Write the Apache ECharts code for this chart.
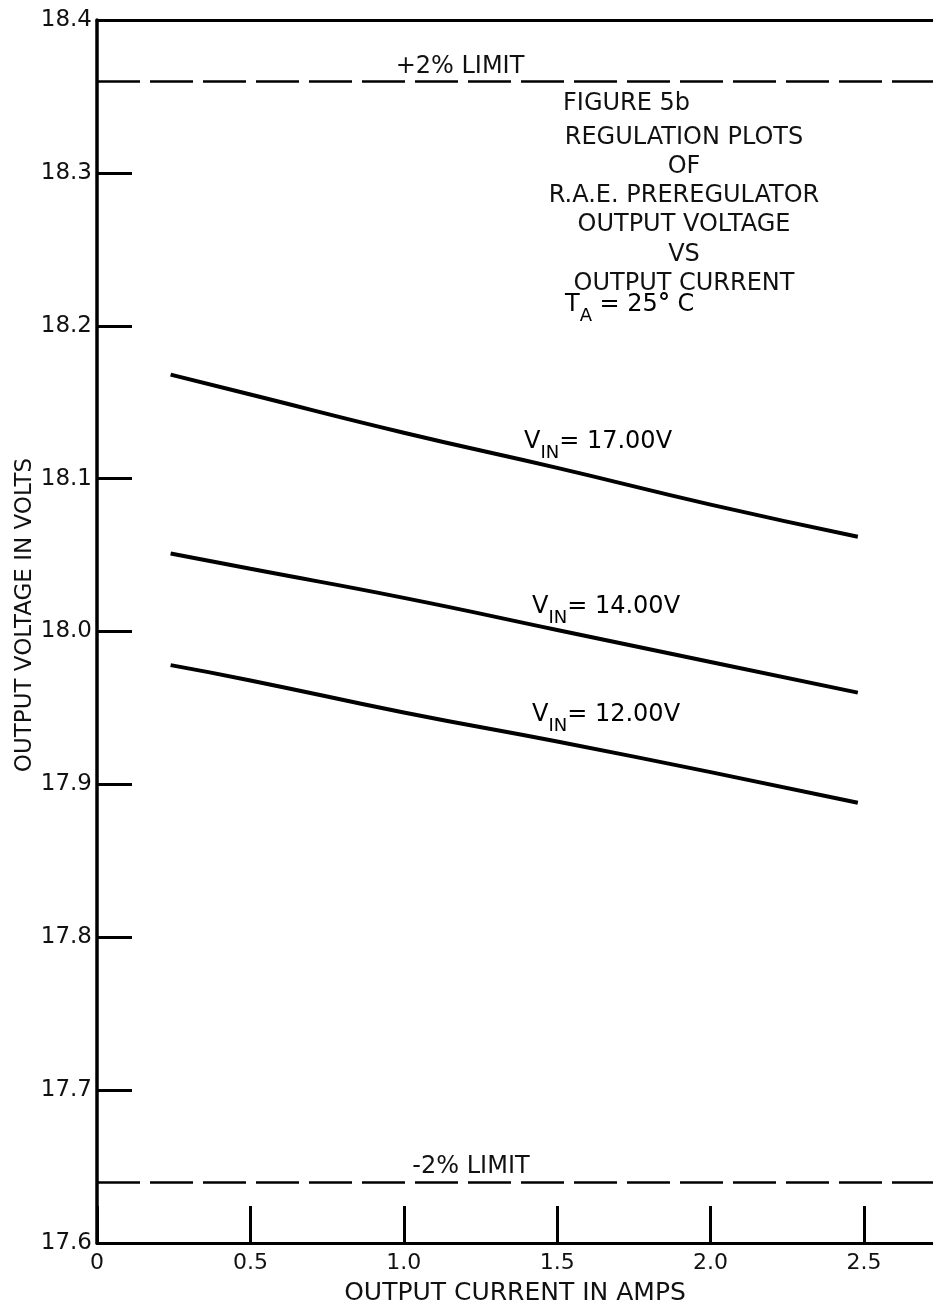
<!DOCTYPE html>
<html>
<head>
<meta charset="utf-8">
<script src="https://cdn.jsdelivr.net/npm/echarts@6/dist/echarts.min.js"></script>
<style>
  html, body { margin: 0; padding: 0; background: #fff; }
  #chart { width: 933px; height: 1309px; }
</style>
</head>
<body>
<div id="chart"></div>
<script>
const current = [0.24, 0.5, 1.0, 1.5, 2.0, 2.48];
// output voltage (V) for each input voltage
const vin17 = [18.168, 18.155, 18.130, 18.107, 18.083, 18.062];
const vin14 = [18.051, 18.041, 18.022, 18.001, 17.980, 17.960];
const vin12 = [17.978, 17.968, 17.947, 17.928, 17.908, 17.888];
// +2% / -2% limits of 18.00 V
const limits = [18.36, 17.64];
const limitNames = ['+2% LIMIT', '-2% LIMIT'];

const FONT = 'DejaVu Sans';

function pairs(ys) {
  return current.map((x, i) => [x, ys[i]]);
}

const lineStyle = { color: '#000', width: 4 };

var myChart = echarts.init(document.getElementById('chart'));

var option = {
  animation: false,
  backgroundColor: '#fff',
  grid: { left: 97, right: 0, top: 20, bottom: 66, outerBoundsMode: 'none', containLabel: false },
  xAxis: [
    {
      type: 'value',
      min: 0,
      max: 2.725,
      interval: 0.5,
      position: 'bottom',
      name: 'OUTPUT CURRENT IN AMPS',
      nameLocation: 'middle',
      nameGap: 38,
      nameTextStyle: { fontFamily: FONT, fontSize: 25, color: '#111' },
      axisLine: { lineStyle: { color: '#000', width: 3 } },
      axisTick: { inside: true, length: 37, lineStyle: { color: '#000', width: 3 } },
      axisLabel: {
        fontFamily: FONT, fontSize: 22, color: '#111', margin: 9,
        showMaxLabel: false,
        formatter: v => (v === 0 ? '0' : v.toFixed(1))
      },
      splitLine: { show: false }
    },
    {
      // top frame line
      type: 'value',
      min: 0,
      max: 2.725,
      position: 'top',
      axisLine: { lineStyle: { color: '#000', width: 3 } },
      axisTick: { show: false },
      axisLabel: { show: false },
      splitLine: { show: false }
    }
  ],
  yAxis: {
    type: 'value',
    min: 17.6,
    max: 18.4,
    interval: 0.1,
    axisLine: { show: true, lineStyle: { color: '#000', width: 3.5 } },
    axisTick: { inside: true, length: 35, lineStyle: { color: '#000', width: 3 } },
    axisLabel: {
      fontFamily: FONT, fontSize: 23, color: '#111', margin: 5,
      formatter: v => v.toFixed(1)
    },
    splitLine: { show: false }
  },
  series: [
    {
      type: 'line', name: 'VIN 17.00V', data: pairs(vin17),
      smooth: true, showSymbol: false, lineStyle: lineStyle,
      markLine: {
        silent: true,
        symbol: ['none', 'none'],
        label: { show: false },
        lineStyle: { color: '#000', width: 2.5, type: [43, 10] },
        data: limits.map(v => ({ yAxis: v }))
      }
    },
    {
      type: 'line', name: 'VIN 14.00V', data: pairs(vin14),
      smooth: true, showSymbol: false, lineStyle: lineStyle
    },
    {
      type: 'line', name: 'VIN 12.00V', data: pairs(vin12),
      smooth: true, showSymbol: false, lineStyle: lineStyle
    }
  ]
};

myChart.setOption(option);

// text annotations
const txt = { fontFamily: FONT, fontSize: 24, fill: '#111' };
const subRich = {
  v: { fontFamily: FONT, fontSize: 24, verticalAlign: 'top', color: '#111' },
  s: { fontFamily: FONT, fontSize: 18, lineHeight: 32, verticalAlign: 'bottom', color: '#111' },
  d: { fontFamily: FONT, fontSize: 24, fontWeight: 'bold', verticalAlign: 'top', color: '#111' }
};

function subLabel(text, x, y) {
  return {
    type: 'text', x: x, y: y,
    style: { text: text, rich: subRich, textVerticalAlign: 'top', fontFamily: FONT }
  };
}

myChart.setOption({
  graphic: [
    {
      type: 'text', x: 25, y: 615, rotation: Math.PI / 2,
      style: Object.assign({ text: 'OUTPUT VOLTAGE IN VOLTS', textAlign: 'center', textVerticalAlign: 'middle' }, txt, { fontSize: 23 })
    },
    {
      type: 'text', x: 460, y: 67,
      style: Object.assign({ text: limitNames[0], textAlign: 'center', textVerticalAlign: 'middle' }, txt)
    },
    {
      type: 'text', x: 471, y: 1167,
      style: Object.assign({ text: limitNames[1], textAlign: 'center', textVerticalAlign: 'middle' }, txt)
    },
    {
      type: 'text', x: 563, y: 104,
      style: Object.assign({ text: 'FIGURE 5b', textAlign: 'left', textVerticalAlign: 'middle' }, txt)
    },
    {
      type: 'text', x: 684, y: 123,
      style: Object.assign({
        text: 'REGULATION PLOTS\nOF\nR.A.E. PREREGULATOR\nOUTPUT VOLTAGE\nVS\nOUTPUT CURRENT',
        textAlign: 'center', textVerticalAlign: 'top', lineHeight: 29.2
      }, txt)
    },
    subLabel('{v|T}{s|A}{v| = 25}{d|°}{v| C}', 565, 293),
    subLabel('{v|V}{s|IN}{v|= 17.00V}', 524, 430),
    subLabel('{v|V}{s|IN}{v|= 14.00V}', 532, 595),
    subLabel('{v|V}{s|IN}{v|= 12.00V}', 532, 703)
  ]
});

window.addEventListener('resize', () => {
  myChart.resize();
});
</script>
</body>
</html>
